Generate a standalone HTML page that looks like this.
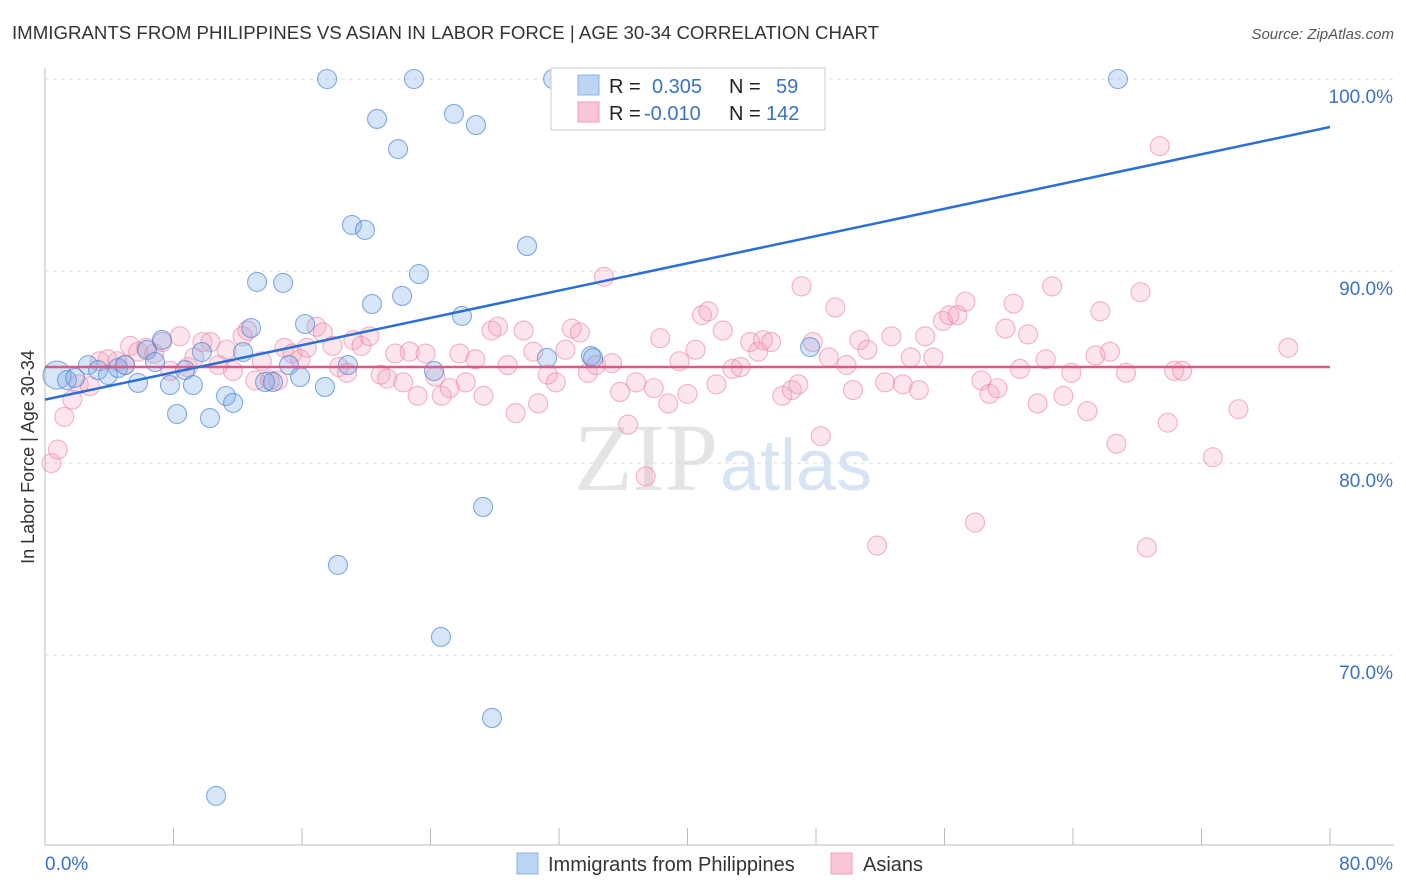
<!DOCTYPE html>
<html><head><meta charset="utf-8">
<style>
body{margin:0;background:#fff;font-family:"Liberation Sans",sans-serif;}
svg{display:block}
</style></head>
<body>
<svg id="chart" width="1406" height="892" viewBox="0 0 1406 892">
<text x="12" y="39" font-size="18" fill="#333" textLength="867" lengthAdjust="spacingAndGlyphs">IMMIGRANTS FROM PHILIPPINES VS ASIAN IN LABOR FORCE | AGE 30-34 CORRELATION CHART</text>
<text x="1394" y="39" font-size="15" fill="#555" font-style="italic" text-anchor="end">Source: ZipAtlas.com</text>
<text x="718" y="490" font-size="96" fill="#e4e4e4" font-family="Liberation Serif,serif" text-anchor="end">ZIP</text>
<text x="720" y="490" font-size="72" fill="#d6e4f4" text-anchor="start">atlas</text>
<g id="grid"></g>
<g id="axes"></g>
<g id="pink"></g>
<g id="blue"></g>
<g id="trends"></g>
<text transform="translate(34,457) rotate(-90)" font-size="18" fill="#333" text-anchor="middle">In Labor Force | Age 30-34</text>
<g>
<rect x="551" y="68" width="274" height="62" fill="#fff" stroke="#ccc"/>
<rect x="578" y="75" width="21" height="20" fill="#bcd5f5" stroke="#8ab0e6"/>
<rect x="578" y="102" width="21" height="20" fill="#fac6d6" stroke="#f0a0b8"/>
<text x="609" y="93" font-size="20" fill="#222">R = </text><text x="652" y="93" font-size="20" fill="#3a72c8">0.305</text>
<text x="729" y="93" font-size="20" fill="#222">N = </text><text x="776" y="93" font-size="20" fill="#3a72c8">59</text>
<text x="609" y="120" font-size="20" fill="#222">R = </text><text x="644" y="120" font-size="20" fill="#3a72c8">-0.010</text>
<text x="729" y="120" font-size="20" fill="#222">N = </text><text x="766" y="120" font-size="20" fill="#3a72c8">142</text>
</g>
<g>
<rect x="517" y="853" width="21" height="21" fill="#bcd5f5" stroke="#8ab0e6"/>
<text x="548" y="871" font-size="20" fill="#333">Immigrants from Philippines</text>
<rect x="831" y="853" width="21" height="21" fill="#fac6d6" stroke="#f0a0b8"/>
<text x="863" y="871" font-size="20" fill="#333">Asians</text>
</g>
</svg>
<script>
const blueX=[0.75,1.37,1.87,2.68,3.30,3.92,4.55,4.98,5.79,6.35,6.85,7.28,7.78,8.22,8.72,9.21,9.77,10.27,11.27,11.71,12.33,12.83,13.20,13.70,14.19,14.82,15.19,15.88,16.19,17.43,17.56,18.24,18.86,19.11,19.92,20.36,20.67,21.98,22.23,22.97,23.28,24.22,24.65,25.46,25.96,26.83,27.27,27.83,30.01,31.25,31.63,33.99,34.12,47.63,66.80,10.65];
const blueY=[84.58,84.32,84.43,85.10,84.84,84.58,84.95,85.10,84.17,85.89,85.26,86.41,84.06,82.55,84.84,84.06,85.78,82.34,83.49,83.13,85.78,87.03,89.43,84.22,84.22,89.38,85.10,84.48,87.24,83.96,100,74.69,85.10,92.40,92.14,88.28,97.92,96.35,88.70,100,89.84,84.79,70.94,98.18,87.66,97.60,77.71,66.72,91.30,85.47,100,85.57,85.47,86.04,100,62.66];
const pinkX=[0.4,0.8,1.2,1.7,2.1,2.8,3.4,3.9,4.5,5.0,5.3,5.8,6.3,6.8,7.3,7.8,8.4,8.9,9.3,9.8,10.3,10.8,11.3,11.7,12.3,12.6,13.1,13.5,14.0,14.5,14.9,15.4,15.9,16.3,16.9,17.3,17.9,18.3,18.8,19.2,19.7,20.2,20.9,21.3,21.8,22.3,22.7,23.2,23.7,24.3,24.7,25.2,25.8,26.2,26.8,27.3,27.8,28.2,28.8,29.3,29.8,30.4,30.7,31.3,31.8,32.4,32.8,33.3,33.8,34.3,34.8,35.3,35.8,36.3,36.8,37.4,37.9,38.3,38.8,39.5,40.0,40.5,40.9,41.3,41.8,42.2,42.8,43.3,43.9,44.4,44.7,45.2,45.9,46.5,46.9,47.1,47.8,48.3,48.8,49.2,49.9,50.3,50.7,51.2,51.8,52.3,52.7,53.4,53.9,54.4,54.8,55.3,55.9,56.3,56.8,57.3,57.9,58.3,58.8,59.3,59.8,60.3,60.7,61.2,61.8,62.3,62.7,63.4,63.9,64.9,65.4,65.7,66.3,66.7,67.3,68.2,68.6,69.4,69.9,70.3,70.8,72.7,74.3,77.4];
const pinkY=[80.0,80.7,82.4,83.3,84.1,84.0,85.3,85.4,85.3,85.1,86.1,85.8,86.0,85.7,86.3,84.8,86.6,85.0,85.5,86.3,86.3,85.1,85.9,84.8,86.6,86.9,84.3,85.3,84.3,84.3,86.0,85.7,85.4,86.0,87.1,86.8,86.1,85.0,84.7,86.4,86.1,86.6,84.6,84.4,85.7,84.2,85.8,83.5,85.7,84.5,83.5,83.9,85.7,84.2,85.4,83.5,86.9,87.1,85.1,82.6,86.9,85.8,83.1,84.6,84.2,85.9,87.0,86.8,84.7,85.1,89.7,85.2,83.7,82.0,84.2,79.3,83.9,86.5,83.1,85.3,83.6,85.9,87.7,87.9,84.1,86.9,84.9,85.0,86.3,85.8,86.4,86.3,83.5,83.8,84.1,89.2,86.3,81.4,85.5,88.1,85.1,83.8,86.4,85.9,75.7,84.2,86.6,84.1,85.5,83.8,86.6,85.5,87.4,87.7,87.7,88.4,76.9,84.3,83.6,83.9,87.0,88.3,84.9,86.7,83.1,85.4,89.2,83.5,84.7,82.7,85.6,87.9,85.8,81.0,84.7,88.9,75.6,96.5,82.1,84.8,84.8,80.3,82.8,86.0];
const blueTrendX=[0,80];
const blueTrendY=[83.3,97.5];
const pinkTrendX=[0,80];
const pinkTrendY=[85.0,85.0];
const yTicks=[100,90,80,70];
const yTickLabels=["100.0%","90.0%","80.0%","70.0%"];
const xTicks=[0,8,16,24,32,40,48,56,64,72,80];
const xTickLabels=["0.0%","80.0%"];

const NS="http://www.w3.org/2000/svg";
const X0=45,X1=1330,Y100=79,PXPER=19.2;
function sx(v){return X0+(v/80)*(X1-X0);}
function sy(v){return Y100+(100-v)*PXPER;}
function mk(tag,attrs,parent){const e=document.createElementNS(NS,tag);for(const k in attrs)e.setAttribute(k,attrs[k]);parent.appendChild(e);return e;}
const grid=document.getElementById('grid'),axes=document.getElementById('axes');
yTicks.forEach((t,i)=>{
  const l=mk('line',{x1:X0,x2:1394,y1:sy(t),y2:sy(t),stroke:'#ddd','stroke-dasharray':'4,4'},grid);
  
  
  const tx=mk('text',{x:1393,y:sy(t)+24,'font-size':19,fill:'#3a72c8','text-anchor':'end'},axes);
  tx.textContent=yTickLabels[i];
  
  
});
const ya=mk('line',{x1:X0,x2:X0,y1:68,y2:845,stroke:'#bbb'},axes);


const xa=mk('line',{x1:X0,x2:1394,y1:845,y2:845,stroke:'#bbb'},axes);


xTicks.forEach(t=>{
  const l=mk('line',{x1:sx(t),x2:sx(t),y1:828,y2:845,stroke:'#bbb'},axes);
  
  
});
const xl0=mk('text',{x:45,y:870,'font-size':19,fill:'#3a72c8'},axes);
xl0.textContent=xTickLabels[0];


const xl1=mk('text',{x:1393,y:870,'font-size':19,fill:'#3a72c8','text-anchor':'end'},axes);
xl1.textContent=xTickLabels[1];



const pg=document.getElementById('pink');
pinkX.forEach((v,i)=>{
  const c=mk('circle',{cx:sx(v),cy:sy(pinkY[i]),r:9.5,fill:'rgba(246,160,188,0.28)',stroke:'rgba(236,130,165,0.6)','stroke-width':1.1},pg);
  
  
});
const bg=document.getElementById('blue');
blueX.forEach((v,i)=>{
  const c=mk('circle',{cx:sx(v),cy:sy(blueY[i]),r:i===0?14:9.5,fill:'rgba(120,170,230,0.3)',stroke:'rgba(70,130,215,0.65)','stroke-width':1.1},bg);
  
  
});
const tg=document.getElementById('trends');
const pl=mk('line',{x1:sx(pinkTrendX[0]),y1:sy(pinkTrendY[0]),x2:sx(pinkTrendX[1]),y2:sy(pinkTrendY[1]),stroke:'#e2558a','stroke-width':2.5},tg);


const bl=mk('line',{x1:sx(blueTrendX[0]),y1:sy(blueTrendY[0]),x2:sx(blueTrendX[1]),y2:sy(blueTrendY[1]),stroke:'#2a6fd6','stroke-width':2.5},tg);


</script>
</body></html>
